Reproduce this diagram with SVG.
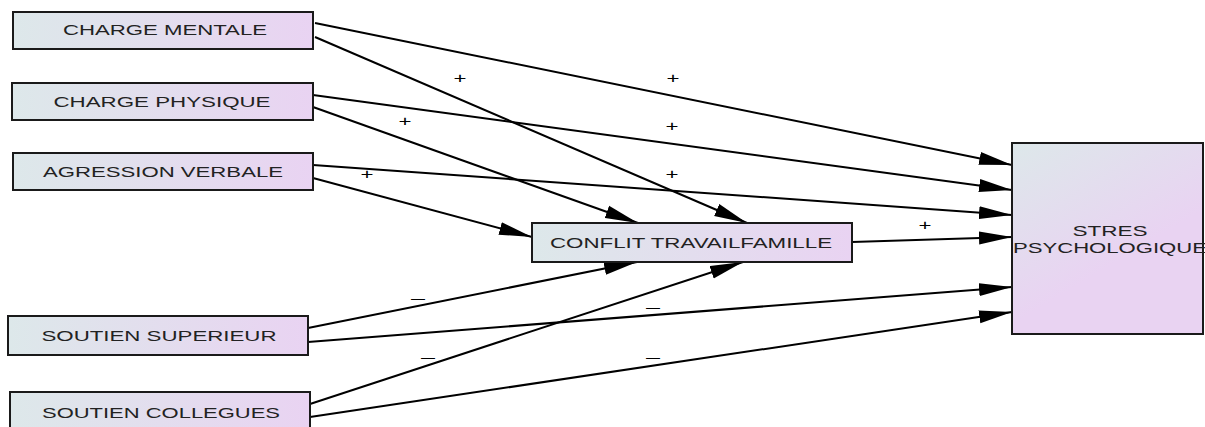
<svg xmlns="http://www.w3.org/2000/svg" width="1205" height="427" viewBox="0 0 1205 427">
  <defs>
    <linearGradient id="fillH" x1="0" y1="0" x2="1" y2="0">
      <stop offset="0" stop-color="#dde8ea"/>
      <stop offset="1" stop-color="#e9d3f2"/>
    </linearGradient>
    <linearGradient id="fillD" x1="0" y1="0" x2="0.6" y2="1">
      <stop offset="0" stop-color="#dde8ea"/>
      <stop offset="0.7" stop-color="#e9d3f2"/>
      <stop offset="1" stop-color="#e9d3f2"/>
    </linearGradient>
    <marker id="arrow" markerUnits="userSpaceOnUse" markerWidth="34" markerHeight="14" refX="33" refY="7" orient="auto">
      <path d="M0,0.5 L33,7 L0,13.5 z" fill="#000"/>
    </marker>
    <style>
      .node rect { stroke: #1a1a1a; stroke-width: 2; }
      .node text { font-family: "Liberation Sans", Arial, sans-serif; font-size: 15px; fill: #222; text-anchor: middle; }
      .edges line { stroke: #000; stroke-width: 2; fill: none; }
      .lbl { font-family: "Liberation Sans", Arial, sans-serif; font-size: 14px; fill: #000; text-anchor: middle; }
    </style>
  </defs>

  <rect width="1205" height="427" fill="#fff"/>

  <!-- connectors -->
  <g id="edges" class="edges">
    <line x1="315" y1="23" x2="1012" y2="165" marker-end="url(#arrow)"/>
    <line x1="315" y1="37" x2="747" y2="223" marker-end="url(#arrow)"/>
    <line x1="313" y1="95" x2="1012" y2="190" marker-end="url(#arrow)"/>
    <line x1="313" y1="107" x2="638" y2="223" marker-end="url(#arrow)"/>
    <line x1="313" y1="165" x2="1012" y2="215" marker-end="url(#arrow)"/>
    <line x1="313" y1="178" x2="532" y2="237" marker-end="url(#arrow)"/>
    <line x1="852" y1="242" x2="1012" y2="237" marker-end="url(#arrow)"/>
    <line x1="308" y1="328" x2="637" y2="262" marker-end="url(#arrow)"/>
    <line x1="308" y1="342" x2="1012" y2="287" marker-end="url(#arrow)"/>
    <line x1="310" y1="404" x2="743" y2="262" marker-end="url(#arrow)"/>
    <line x1="310" y1="417" x2="1012" y2="312" marker-end="url(#arrow)"/>
  </g>

  <!-- connector labels -->
  <g id="edge-labels">
    <text class="lbl" x="460" y="83" textLength="13" lengthAdjust="spacingAndGlyphs">+</text>
    <text class="lbl" x="673" y="83" textLength="13" lengthAdjust="spacingAndGlyphs">+</text>
    <text class="lbl" x="405" y="126" textLength="13" lengthAdjust="spacingAndGlyphs">+</text>
    <text class="lbl" x="672" y="131" textLength="13" lengthAdjust="spacingAndGlyphs">+</text>
    <text class="lbl" x="367" y="179" textLength="13" lengthAdjust="spacingAndGlyphs">+</text>
    <text class="lbl" x="672" y="179" textLength="13" lengthAdjust="spacingAndGlyphs">+</text>
    <text class="lbl" x="925" y="230" textLength="13" lengthAdjust="spacingAndGlyphs">+</text>
    <text class="lbl" x="418" y="303" textLength="14" lengthAdjust="spacingAndGlyphs">—</text>
    <text class="lbl" x="653" y="312" textLength="14" lengthAdjust="spacingAndGlyphs">—</text>
    <text class="lbl" x="428" y="362" textLength="14" lengthAdjust="spacingAndGlyphs">—</text>
    <text class="lbl" x="653" y="362" textLength="14" lengthAdjust="spacingAndGlyphs">—</text>
  </g>

  <!-- nodes -->
  <g id="charge-mentale" class="node">
    <rect x="13" y="12" width="300" height="37" fill="url(#fillH)"/>
    <text x="165" y="35" textLength="204" lengthAdjust="spacingAndGlyphs">CHARGE MENTALE</text>
  </g>
  <g id="charge-physique" class="node">
    <rect x="12" y="83" width="301" height="37" fill="url(#fillH)"/>
    <text x="162" y="107" textLength="217" lengthAdjust="spacingAndGlyphs">CHARGE PHYSIQUE</text>
  </g>
  <g id="agression-verbale" class="node">
    <rect x="13" y="153" width="300" height="37" fill="url(#fillH)"/>
    <text x="163" y="177" textLength="240" lengthAdjust="spacingAndGlyphs">AGRESSION VERBALE</text>
  </g>
  <g id="soutien-superieur" class="node">
    <rect x="8" y="316" width="300" height="39" fill="url(#fillH)"/>
    <text x="159" y="341" textLength="235" lengthAdjust="spacingAndGlyphs">SOUTIEN SUPERIEUR</text>
  </g>
  <g id="soutien-collegues" class="node">
    <rect x="10" y="392" width="300" height="39" fill="url(#fillH)"/>
    <text x="161" y="418" textLength="238" lengthAdjust="spacingAndGlyphs">SOUTIEN COLLEGUES</text>
  </g>
  <g id="conflit-travail-famille" class="node">
    <rect x="532" y="223" width="320" height="39" fill="url(#fillH)"/>
    <text x="691" y="248" textLength="282" lengthAdjust="spacingAndGlyphs">CONFLIT TRAVAILFAMILLE</text>
  </g>
  <g id="stres-psychologique" class="node">
    <rect x="1012" y="143" width="191" height="191" fill="url(#fillD)"/>
    <text x="1110" y="236" textLength="75" lengthAdjust="spacingAndGlyphs">STRES</text>
    <text x="1110" y="253" textLength="194" lengthAdjust="spacingAndGlyphs">PSYCHOLOGIQUE</text>
  </g>
</svg>
